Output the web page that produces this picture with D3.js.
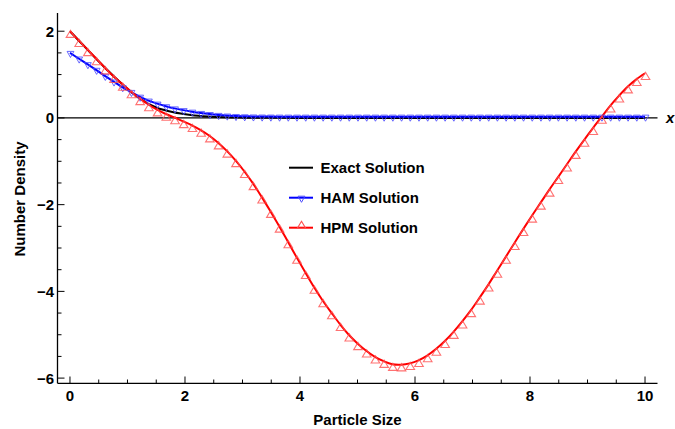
<!DOCTYPE html>
<html>
<head>
<meta charset="utf-8">
<script src="https://cdn.jsdelivr.net/npm/d3@7"></script>
<style>
  html, body { margin: 0; padding: 0; background: #fff; }
  text { font-family: "Liberation Sans", Arial, sans-serif; font-weight: bold; }
</style>
</head>
<body>
<svg id="chart" width="675" height="429"></svg>
<script>
// ---- data ----
const sampleX = d3.range(67).map(i => i * 10 / 66);  // marker abscissae 0..10
const hpmValues = [2.00, 1.79, 1.58, 1.37, 1.16, 0.96, 0.78, 0.61, 0.45, 0.31,
  0.19, 0.09, 0.01, -0.08, -0.17, -0.28, -0.41, -0.57, -0.76, -0.98,
  -1.23, -1.51, -1.82, -2.15, -2.49, -2.85, -3.21, -3.56, -3.90, -4.21,
  -4.49, -4.76, -5.00, -5.20, -5.37, -5.51, -5.61, -5.68, -5.69, -5.66,
  -5.59, -5.48, -5.33, -5.15, -4.94, -4.70, -4.44, -4.15, -3.85, -3.53,
  -3.21, -2.89, -2.57, -2.26, -1.96, -1.66, -1.37, -1.08, -0.79, -0.51,
  -0.24, 0.02, 0.28, 0.51, 0.72, 0.89, 1.03];
const hamValues = [1.50, 1.37, 1.24, 1.11, 0.97, 0.84, 0.71, 0.60, 0.49, 0.40,
  0.33, 0.27, 0.22, 0.18, 0.145, 0.115, 0.09, 0.07, 0.055, 0.045,
  0.038, 0.034, 0.032, 0.031, 0.03, 0.03, 0.03, 0.03, 0.03, 0.03,
  0.03, 0.03, 0.03, 0.03, 0.03, 0.03, 0.03, 0.03, 0.03, 0.03,
  0.03, 0.03, 0.03, 0.03, 0.03, 0.03, 0.03, 0.03, 0.03, 0.03,
  0.03, 0.03, 0.03, 0.03, 0.03, 0.03, 0.03, 0.03, 0.03, 0.03,
  0.03, 0.03, 0.03, 0.03, 0.03, 0.03, 0.03];
const exactX = [0, 0.3, 0.6, 0.9, 1.2, 1.5, 1.8, 2.1, 2.4, 2.7, 3.0, 3.5, 4, 5, 6, 7, 8, 9, 10];
const exactValues = [2.0, 1.58, 1.17, 0.79, 0.46, 0.24, 0.13, 0.07, 0.035, 0.015, 0.007, 0.003, 0.001, 0, 0, 0, 0, 0, 0];
const xTickValues = [0, 2, 4, 6, 8, 10];
const yTickValues = [-6, -4, -2, 0, 2];
const yTickLabels = ["\u22126", "\u22124", "\u22122", "0", "2"];
const seriesNames = ["Exact Solution", "HAM Solution", "HPM Solution"];
const seriesColors = ["#000000", "#0000ff", "#ff0000"];

// ---- layout ----
const svg = d3.select("#chart");
const x = d3.scaleLinear().domain([-0.217, 10.217]).range([57.5, 657.5]);
const y = d3.scaleLinear().domain([-6.12, 2.42]).range([383.3, 13]);

const line = d3.line().x(d => x(d[0])).y(d => y(d[1])).curve(d3.curveCatmullRom.alpha(0.5));
const exactPts = exactX.map((v, i) => [v, exactValues[i]]);
const hamPts = sampleX.map((v, i) => [v, hamValues[i]]);
const hpmPts = sampleX.map((v, i) => [v, hpmValues[i]]);

// axis at y = 0
svg.append("line").attr("x1", x.range()[0]).attr("x2", x.range()[1])
  .attr("y1", y(0)).attr("y2", y(0)).attr("stroke", "#000").attr("stroke-width", 1.2);
svg.append("text").attr("x", 666).attr("y", y(0) + 5).attr("font-size", 15)
  .attr("font-style", "italic").text("x");

svg.append("path").datum(exactPts).attr("d", line).attr("fill", "none")
  .attr("stroke", seriesColors[0]).attr("stroke-width", 2);
svg.append("path").datum(hamPts).attr("d", line).attr("fill", "none")
  .attr("stroke", seriesColors[1]).attr("stroke-width", 2);
svg.append("path").datum(hpmPts).attr("d", line).attr("fill", "none")
  .attr("stroke", seriesColors[2]).attr("stroke-width", 2);

// markers
const downTri = "M-3.4,-1.5L3.4,-1.5L0,4.6Z";
const upTri = "M0,-1L4.3,6.2L-4.3,6.2Z";
svg.append("g").selectAll("path").data(hamPts).join("path")
  .attr("d", downTri).attr("transform", d => `translate(${x(d[0]) + 0.5},${y(d[1])})`)
  .attr("fill", "none").attr("stroke", "#4d4dff").attr("stroke-width", 1).attr("stroke-opacity", 0.85);
svg.append("g").selectAll("path").data(hpmPts).join("path")
  .attr("d", upTri).attr("transform", d => `translate(${x(d[0]) + 0.5},${y(d[1])})`)
  .attr("fill", "none").attr("stroke", "#ff4d4d").attr("stroke-width", 1.1).attr("stroke-opacity", 0.8);

// frame axes (left & bottom) with inward ticks
const axG = svg.append("g");
axG.append("line").attr("x1", x.range()[0]).attr("x2", x.range()[1])
  .attr("y1", 383.3).attr("y2", 383.3).attr("stroke", "#000").attr("stroke-width", 1.3);
axG.append("line").attr("x1", 57.5).attr("x2", 57.5)
  .attr("y1", 13).attr("y2", 383.3).attr("stroke", "#000").attr("stroke-width", 1.3);

const xMinor = d3.range(0, 10.01, 0.5).filter(v => !xTickValues.includes(v));
const yMinor = d3.range(-6, 2.01, 0.5).filter(v => !yTickValues.includes(v));
xTickValues.forEach(v => axG.append("line").attr("x1", x(v)).attr("x2", x(v))
  .attr("y1", 383.3).attr("y2", 376.5).attr("stroke", "#000").attr("stroke-width", 1));
xMinor.forEach(v => axG.append("line").attr("x1", x(v)).attr("x2", x(v))
  .attr("y1", 383.3).attr("y2", 379.5).attr("stroke", "#000").attr("stroke-width", 1));
yTickValues.forEach(v => axG.append("line").attr("x1", 57.5).attr("x2", 64.5)
  .attr("y1", y(v)).attr("y2", y(v)).attr("stroke", "#000").attr("stroke-width", 1));
yMinor.forEach(v => axG.append("line").attr("x1", 57.5).attr("x2", 61.5)
  .attr("y1", y(v)).attr("y2", y(v)).attr("stroke", "#000").attr("stroke-width", 1));

xTickValues.forEach(v => axG.append("text").attr("x", x(v)).attr("y", 400.5)
  .attr("text-anchor", "middle").attr("font-size", 15).text(v));
yTickValues.forEach((v, i) => axG.append("text").attr("x", 54).attr("y", y(v) + 5.5)
  .attr("text-anchor", "end").attr("font-size", 15).text(yTickLabels[i]));

svg.append("text").attr("x", 357.5).attr("y", 425).attr("text-anchor", "middle")
  .attr("font-size", 15).text("Particle Size");
svg.append("text").attr("transform", "translate(25,199) rotate(-90)")
  .attr("text-anchor", "middle").attr("font-size", 15).text("Number Density");

// legend
const legY = [167.7, 197.7, 227.7];
seriesNames.forEach((name, i) => {
  svg.append("line").attr("x1", 289).attr("x2", 313).attr("y1", legY[i]).attr("y2", legY[i])
    .attr("stroke", seriesColors[i]).attr("stroke-width", 2);
  if (i === 1) svg.append("path").attr("d", downTri).attr("transform", `translate(301.5,${legY[i]})`)
    .attr("fill", "none").attr("stroke", "#4d4dff").attr("stroke-width", 1);
  if (i === 2) svg.append("path").attr("d", upTri).attr("transform", `translate(301.5,${legY[i] - 5.5})`)
    .attr("fill", "none").attr("stroke", "#ff4d4d").attr("stroke-width", 1.1);
  svg.append("text").attr("x", 320.5).attr("y", legY[i] + 5.5).attr("font-size", 15).text(name);
});
</script>
</body>
</html>
